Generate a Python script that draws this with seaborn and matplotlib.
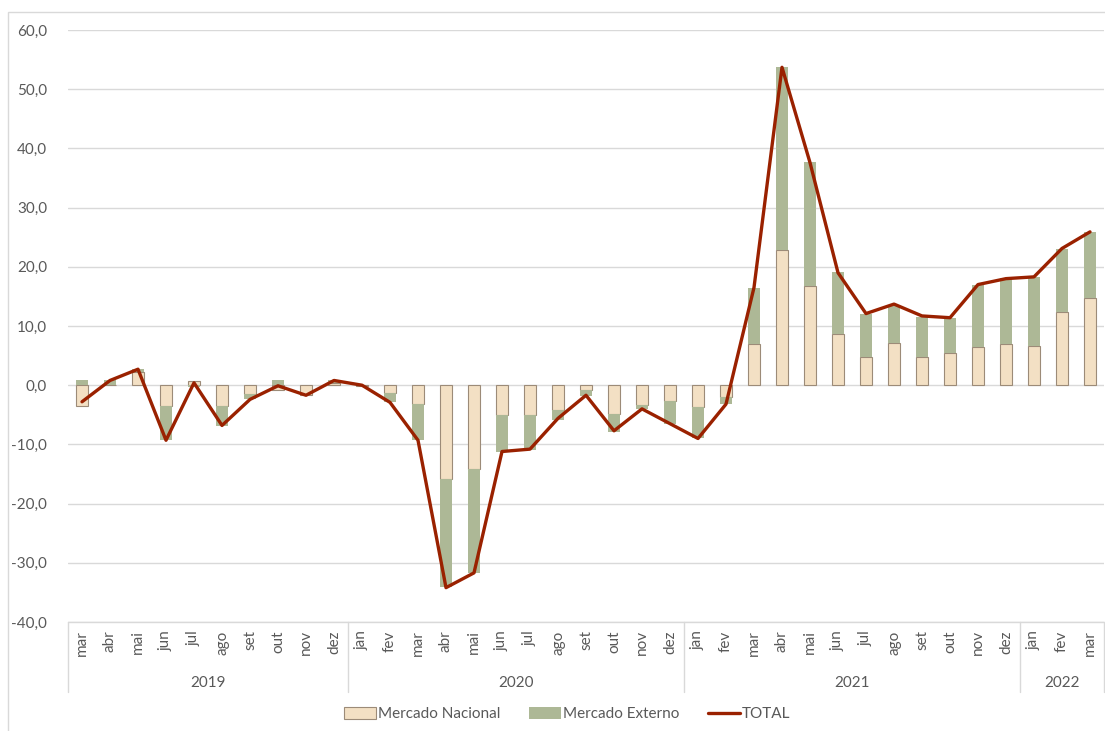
import numpy as np
import pandas as pd
import matplotlib
matplotlib.use("Agg")
import matplotlib.pyplot as plt
import matplotlib.transforms as mtransforms
from matplotlib.patches import Patch, Rectangle
from matplotlib.lines import Line2D
import seaborn as sns

# Monthly data, mar 2019 - mar 2022
months = ["mar", "abr", "mai", "jun", "jul", "ago", "set", "out", "nov", "dez",
          "jan", "fev", "mar", "abr", "mai", "jun", "jul", "ago", "set", "out", "nov", "dez",
          "jan", "fev", "mar", "abr", "mai", "jun", "jul", "ago", "set", "out", "nov", "dez",
          "jan", "fev", "mar"]
years = ["2019"] * 10 + ["2020"] * 12 + ["2021"] * 12 + ["2022"] * 3

nacional = [-3.5, 0.1, 2.2, -3.5, 0.7, -3.5, -1.5, -0.8, -1.7, 0.3,
            -0.1, -1.4, -3.1, -15.9, -14.1, -5.1, -5.1, -4.2, -0.8, -4.9, -3.4, -2.7,
            -3.7, -2.0, 6.9, 22.8, 16.8, 8.6, 4.7, 7.2, 4.8, 5.4, 6.4, 6.9,
            6.7, 12.3, 14.7]
externo = [0.8, 0.8, 0.5, -5.8, -0.3, -3.4, -0.9, 0.8, 0.0, 0.5,
           0.1, -1.5, -6.2, -18.2, -17.7, -6.2, -5.8, -1.7, -1.0, -3.0, -0.7, -3.9,
           -5.3, -1.2, 9.6, 30.9, 20.9, 10.5, 7.4, 6.4, 6.8, 6.0, 10.6, 11.2,
           11.6, 10.7, 11.2]
total = [-2.8, 0.8, 2.7, -9.3, 0.4, -6.8, -2.4, -0.1, -1.7, 0.8,
         0.0, -2.9, -9.3, -34.2, -31.7, -11.2, -10.8, -5.6, -1.7, -7.7, -4.0, -6.5,
         -9.0, -3.2, 16.5, 53.7, 37.6, 19.0, 12.1, 13.7, 11.7, 11.4, 17.0, 18.0,
         18.3, 23.1, 25.9]

df = pd.DataFrame({
    "periodo": [f"{y}-{m}" for y, m in zip(years, months)],
    "nacional": nacional,
    "externo": externo,
    "total": total,
})
# excel-style stacking: same sign stacks on top, opposite sign starts at zero
df["base_ext"] = np.where(np.sign(df["externo"]) == np.sign(df["nacional"]), df["nacional"], 0.0)

c_nac = "#F3E0C4"
c_nac_edge = "#9C8B78"
c_ext = "#ADB896"
c_tot = "#9A2100"
c_txt = "#595959"
c_grid = "#D9D9D9"
fs = 11

sns.set_style("white")
plt.rcParams["font.family"] = ["Lato", "DejaVu Sans"]

fig = plt.figure(figsize=(11.05, 7.31), dpi=100)
ax = fig.add_axes([68 / 1105, 1 - 622 / 731, (1104 - 68) / 1105, (622 - 30) / 731])

sns.barplot(data=df, x="periodo", y="nacional", color=c_nac, saturation=1, width=0.43,
            edgecolor=c_nac_edge, linewidth=0.8, errorbar=None, ax=ax, zorder=2)
sns.barplot(data=df, x="periodo", y="externo", color=c_ext, saturation=1, width=0.43,
            bottom=df["base_ext"].values, linewidth=0, errorbar=None, ax=ax, zorder=2)
sns.lineplot(x=np.arange(len(df)), y=df["total"].values, color=c_tot, linewidth=2.4,
             ax=ax, zorder=3)

ax.set_xlim(-0.5, len(df) - 0.5)
ax.set_ylim(-40, 60)
ax.set_yticks(np.arange(-40, 61, 10))
ax.set_yticklabels([f"{v:.1f}".replace(".", ",") for v in np.arange(-40, 61, 10)],
                   fontsize=fs, color=c_txt)
ax.set_xticks(np.arange(len(df)))
ax.set_xticklabels(months, rotation=90, fontsize=fs, color=c_txt)
ax.tick_params(axis="both", length=0)
ax.tick_params(axis="y", pad=15)
ax.tick_params(axis="x", pad=6)
ax.set_xlabel("")
ax.set_ylabel("")
ax.grid(axis="y", color=c_grid, linewidth=1)
ax.set_axisbelow(True)
for s in ax.spines.values():
    s.set_visible(False)

# two-level category axis: year labels and separators
trans = mtransforms.blended_transform_factory(ax.transData, ax.transAxes)
for xs in [-0.5, 9.5, 21.5, 33.5, len(df) - 0.5]:
    ax.plot([xs, xs], [0, -0.118], color=c_grid, linewidth=1, transform=trans, clip_on=False)
ax.plot([-0.5, len(df) - 0.5], [0, 0], color=c_grid, linewidth=1, transform=trans, clip_on=False)
for yr, xc in [("2019", 4.5), ("2020", 15.5), ("2021", 27.5), ("2022", 35)]:
    ax.text(xc, -0.103, yr, transform=trans, ha="center", va="center", fontsize=fs, color=c_txt)

handles = [Patch(facecolor=c_nac, edgecolor=c_nac_edge, linewidth=0.8),
           Patch(facecolor=c_ext, edgecolor="none"),
           Line2D([0], [0], color=c_tot, linewidth=2.4)]
fig.legend(handles, ["Mercado Nacional", "Mercado Externo", "TOTAL"], loc="center",
           bbox_to_anchor=(567 / 1105, 1 - 714 / 731), ncol=3, frameon=False,
           fontsize=fs, labelcolor=c_txt, handlelength=2.1, handleheight=0.9,
           handletextpad=0.1, columnspacing=1.9)

fig.patches.append(Rectangle((8 / 1105, -0.1), 2, 1.1 - 12 / 731, transform=fig.transFigure,
                             fill=False, edgecolor=c_grid, linewidth=1))

fig.savefig("out.png", dpi=100)
